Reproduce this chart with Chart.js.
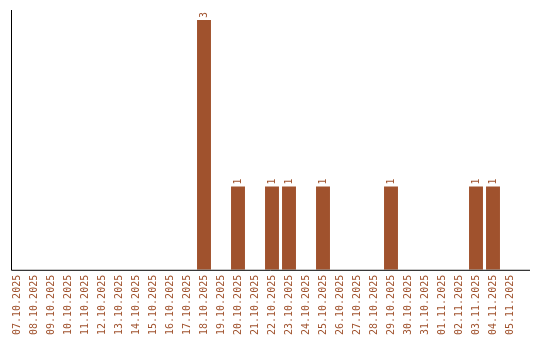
<!DOCTYPE html>
<html>
<head>
<meta charset="utf-8">
<script src="https://cdn.jsdelivr.net/npm/chart.js@4"></script>
<style>
    html, body { margin: 0; padding: 0; background: #fff; }
    #wrap { width: 540px; height: 340px; }
</style>
</head>
<body>
<div id="wrap"><canvas id="chart"></canvas></div>
<script>
// =========================
// DATA
// =========================
const dates = [
    "07.10.2025", "08.10.2025", "09.10.2025", "10.10.2025", "11.10.2025",
    "12.10.2025", "13.10.2025", "14.10.2025", "15.10.2025", "16.10.2025",
    "17.10.2025", "18.10.2025", "19.10.2025", "20.10.2025", "21.10.2025",
    "22.10.2025", "23.10.2025", "24.10.2025", "25.10.2025", "26.10.2025",
    "27.10.2025", "28.10.2025", "29.10.2025", "30.10.2025", "31.10.2025",
    "01.11.2025", "02.11.2025", "03.11.2025", "04.11.2025", "05.11.2025"
];
const counts = [
    0, 0, 0, 0, 0,
    0, 0, 0, 0, 0,
    0, 3, 0, 1, 0,
    1, 1, 0, 1, 0,
    0, 0, 1, 0, 0,
    0, 0, 1, 1, 0
];

const brown = "#a0522d";
const monoFont = { family: "'DejaVu Sans Mono', monospace", size: 10 };

// =========================
// PLUGINS
// =========================
// numbers above the bars, rotated like the dates
const valueLabels = {
    id: "valueLabels",
    afterDatasetsDraw(chart) {
        const ctx = chart.ctx;
        const meta = chart.getDatasetMeta(0);
        ctx.save();
        ctx.fillStyle = brown;
        ctx.font = "10px 'DejaVu Sans Mono', monospace";
        ctx.textAlign = "left";
        ctx.textBaseline = "middle";
        meta.data.forEach((bar, i) => {
            if (!counts[i]) return;
            ctx.save();
            ctx.translate(bar.x, bar.y - 2);
            ctx.rotate(-Math.PI / 2);
            ctx.fillText(String(counts[i]), 0, 0);
            ctx.restore();
        });
        ctx.restore();
    }
};

// plain black axis lines
const axisLines = {
    id: "axisLines",
    afterDraw(chart) {
        const ctx = chart.ctx;
        const area = chart.chartArea;
        ctx.save();
        ctx.strokeStyle = "#000";
        ctx.lineWidth = 1;
        ctx.beginPath();
        ctx.moveTo(11.5, area.top);
        ctx.lineTo(11.5, area.bottom + 0.5);
        ctx.lineTo(530, area.bottom + 0.5);
        ctx.stroke();
        ctx.restore();
    }
};

// =========================
// CHART
// =========================
new Chart(document.getElementById("chart"), {
    type: "bar",
    data: {
        labels: dates,
        datasets: [{
            data: counts,
            backgroundColor: brown,
            borderWidth: 0,
            categoryPercentage: 0.82,
            barPercentage: 1
        }]
    },
    options: {
        responsive: true,
        maintainAspectRatio: false,
        animation: false,
        layout: { padding: { left: 8.5, right: 21.5, top: 10, bottom: 0 } },
        plugins: {
            legend: { display: false },
            tooltip: { enabled: false }
        },
        scales: {
            x: {
                grid: { display: false, drawTicks: false },
                border: { display: false },
                ticks: {
                    color: brown,
                    font: monoFont,
                    minRotation: 90,
                    maxRotation: 90,
                    autoSkip: false,
                    padding: 5
                }
            },
            y: {
                display: false,
                min: 0,
                max: 3.12
            }
        }
    },
    plugins: [valueLabels, axisLines]
});
</script>
</body>
</html>
